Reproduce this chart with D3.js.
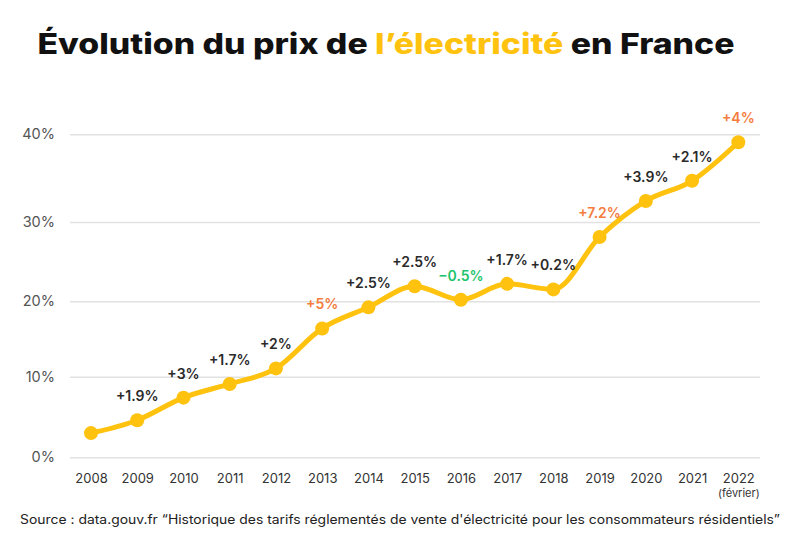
<!DOCTYPE html>
<html>
<head>
<meta charset="utf-8">
<script src="https://cdn.jsdelivr.net/npm/d3@7"></script>
<style>
  html, body { margin: 0; padding: 0; background: #fff; }
  svg { display: block; font-family: "Inter", "Noto Sans", sans-serif; }
</style>
</head>
<body>
<svg id="chart" width="800" height="534"></svg>
<script>
// ---- data ----
const years = ["2008","2009","2010","2011","2012","2013","2014","2015","2016","2017","2018","2019","2020","2021","2022"];
const cumulativeIncrease = [3.0, 4.6, 7.4, 9.1, 11.1, 16.4, 19.2, 21.9, 20.2, 22.2, 21.5, 28.1, 32.4, 34.7, 39.1];
const yearlyChange = [null, 1.9, 3, 1.7, 2, 5, 2.5, 2.5, -0.5, 1.7, 0.2, 7.2, 3.9, 2.1, 4];
const yTicks = [0, 10, 20, 30, 40];
const lastYearNote = "(février)";
const titleParts = [["Évolution du prix de ", "dark"], ["l’électricité", "yellow"], [" en France", "dark"]];
const sourceText = "Source : data.gouv.fr “Historique des tarifs réglementés de vente d'électricité pour les consommateurs résidentiels”";

// ---- styles ----
const YELLOW = "#FFC20E";
const DARK = "#2a2a2a";
const ORANGE = "#F47C3C";
const GREEN = "#1DC46C";

const svg = d3.select("#chart");

// scales (the reference's gridlines are not evenly spaced: piecewise-linear scale)
const y = d3.scaleLinear().domain(yTicks).range([457.3, 376.7, 301.3, 222, 134.3]);
const x = d3.scalePoint().domain(years).range([91, 738.3]);

// title
const title = svg.append("text")
  .attr("x", 386).attr("y", 54)
  .attr("text-anchor", "middle")
  .attr("font-size", 28).attr("font-weight", 800)
  .attr("textLength", 697).attr("lengthAdjust", "spacingAndGlyphs");
title.selectAll("tspan").data(titleParts).join("tspan")
  .text(d => d[0])
  .attr("fill", d => d[1] === "yellow" ? YELLOW : "#111");

// y axis + gridlines
const yAxis = svg.append("g").attr("transform", "translate(70,0)")
  .call(d3.axisLeft(y).tickValues(yTicks).tickFormat(d => d + "%").tickSize(-690).tickPadding(15));
yAxis.select(".domain").remove();
yAxis.selectAll(".tick line").attr("stroke", "#e2e2e2").attr("stroke-width", 1.5);
yAxis.selectAll(".tick text").attr("font-size", 14.5).attr("fill", "#555").attr("font-family", "Inter, sans-serif");

// x axis
const xAxis = svg.append("g").attr("transform", "translate(0,457.3)")
  .call(d3.axisBottom(x).tickSize(0).tickPadding(16));
xAxis.select(".domain").remove();
xAxis.selectAll(".tick text").attr("font-size", 13).attr("fill", "#333").attr("font-family", "Inter, sans-serif");
xAxis.selectAll(".tick").filter(d => d === years[years.length - 1])
  .append("text")
  .attr("y", 40).attr("fill", "#333").attr("font-size", 11)
  .attr("font-family", "Inter, sans-serif")
  .text(lastYearNote);

// line
const pts = years.map((yr, i) => ({ year: yr, v: cumulativeIncrease[i], c: yearlyChange[i] }));
const line = d3.line().x(d => x(d.year)).y(d => y(d.v)).curve(d3.curveMonotoneX);
svg.append("path").datum(pts)
  .attr("d", line).attr("fill", "none")
  .attr("stroke", YELLOW).attr("stroke-width", 5)
  .attr("stroke-linejoin", "round").attr("stroke-linecap", "round");

svg.append("g").selectAll("circle").data(pts).join("circle")
  .attr("cx", d => x(d.year)).attr("cy", d => y(d.v)).attr("r", 7)
  .attr("fill", YELLOW);

// change labels
svg.append("g").selectAll("text").data(pts.filter(d => d.c !== null)).join("text")
  .attr("x", d => x(d.year)).attr("y", d => y(d.v) - 19)
  .attr("text-anchor", "middle")
  .attr("font-size", 14).attr("font-weight", 600)
  .attr("fill", d => d.c < 0 ? GREEN : (d.c >= 4 ? ORANGE : DARK))
  .text(d => (d.c < 0 ? "−" : "+") + Math.abs(d.c) + "%");

// source
svg.append("text")
  .attr("x", 400).attr("y", 524)
  .attr("text-anchor", "middle")
  .attr("font-size", 12.5).attr("fill", "#222")
  .attr("textLength", 760).attr("lengthAdjust", "spacingAndGlyphs")
  .text(sourceText);
</script>
</body>
</html>
